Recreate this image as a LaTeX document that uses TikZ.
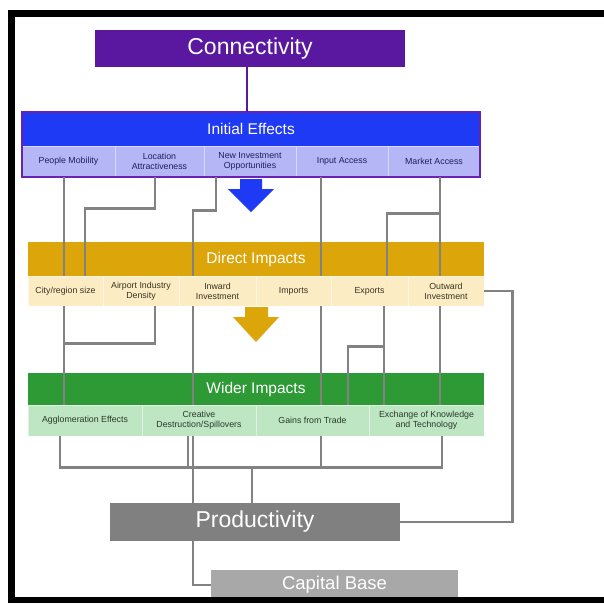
\documentclass[tikz,border=0pt]{standalone}
\usepackage{fontspec}
\setmainfont{Liberation Sans}
\usetikzlibrary{calc}
\definecolor{cpurple}{HTML}{5A17A0}
\definecolor{ieblue}{HTML}{1F3AF5}
\definecolor{ielav}{HTML}{B4B6F5}
\definecolor{ieborder}{HTML}{6A22B0}
\definecolor{ietext}{HTML}{1F1F5C}
\definecolor{digold}{HTML}{DCA50A}
\definecolor{dicream}{HTML}{FBECC4}
\definecolor{ditext}{HTML}{3A3320}
\definecolor{wigreen}{HTML}{2E9A36}
\definecolor{wilight}{HTML}{BEE6C3}
\definecolor{witext}{HTML}{2A3A2A}
\definecolor{conngray}{HTML}{828282}
\definecolor{prodgray}{HTML}{808080}
\definecolor{capgray}{HTML}{A8A8A8}
\tikzset{
  bigbox/.style={rectangle, inner sep=0pt, text=white, font=\fontsize{23}{26}\selectfont},
  hdr/.style={rectangle, inner sep=0pt, text=white, font=\fontsize{15.5}{18}\selectfont},
  cell/.style={rectangle, inner sep=0pt, align=center, font=\fontsize{8.8}{10}\selectfont, draw=white, draw opacity=0.5, line width=0.6pt},
  icell/.style={cell, fill=ielav, text=ietext, minimum height=31pt},
  dcell/.style={cell, fill=dicream, text=ditext, minimum height=30pt},
  wcell/.style={cell, fill=wilight, text=witext, minimum height=31pt},
  conn/.style={draw=conngray, line width=2.6pt},
}
\begin{document}
\begin{tikzpicture}[x=1pt,y=-1pt]
\useasboundingbox (0,0) rectangle (604,603);
\fill[white] (0,0) rectangle (604,603);

% Connectivity
\node[bigbox, fill=cpurple, minimum width=310pt, minimum height=37pt] (conn) at (250,48.5) {Connectivity};

% Initial effects
\node[hdr, fill=ieblue, minimum width=458pt, minimum height=34pt] (ie) at (251,129) {Initial Effects};
\node[icell, minimum width=93pt] (pm) at (68.5,161.5) {People Mobility};
\node[icell, minimum width=89pt] (la) at (159.5,161.5) {Location\\Attractiveness};
\node[icell, minimum width=92pt] (ni) at (250,161.5) {New Investment\\Opportunities};
\node[icell, minimum width=92pt] (ia) at (342,161.5) {Input Access};
\node[icell, minimum width=92pt] (ma) at (434,161.5) {Market Access};
\draw[ieborder, line width=1.6pt] (22,112) rectangle (480,177);

\draw[draw=cpurple, line width=2.2pt] ([xshift=-3pt]conn.south) -- ([xshift=-4pt]ie.north);

% arrows
\fill[ieblue] (240,179) -- (262,179) -- (262,189) -- (274,189) -- (251,212) -- (228,189) -- (240,189) -- cycle;
\fill[digold] (245,307) -- (268,307) -- (268,317) -- (279,317) -- (256,342) -- (233,317) -- (245,317) -- cycle;

% Direct impacts
\node[hdr, fill=digold, minimum width=456pt, minimum height=34pt] (di) at (256,259) {Direct Impacts};
\node[dcell, minimum width=75pt] (cr) at (65.5,291) {City/region size};
\node[dcell, minimum width=76pt] (ai) at (141,291) {Airport Industry\\Density};
\node[dcell, minimum width=77pt] (ii) at (217.5,291) {Inward\\Investment};
\node[dcell, minimum width=75pt] (im) at (293.5,291) {Imports};
\node[dcell, minimum width=77pt] (ex) at (369.5,291) {Exports};
\node[dcell, minimum width=76pt] (oi) at (446,291) {Outward\\Investment};

% Wider impacts
\node[hdr, fill=wigreen, minimum width=456pt, minimum height=32pt] (wi) at (256,389) {Wider Impacts};
\node[wcell, minimum width=114pt] (ag) at (85,420.5) {Agglomeration Effects};
\node[wcell, minimum width=114pt] (cd) at (199,420.5) {Creative\\Destruction/Spillovers};
\node[wcell, minimum width=113pt] (gt) at (312.5,420.5) {Gains from Trade};
\node[wcell, minimum width=115pt] (ek) at (426.5,420.5) {Exchange of Knowledge\\and Technology};

% Productivity and capital base
\node[bigbox, fill=prodgray, minimum width=290pt, minimum height=38pt] (prod) at (255,522) {Productivity};
\node[bigbox, fill=capgray, minimum width=247pt, minimum height=30pt, font=\fontsize{18.5}{21}\selectfont] (cap) at (334.5,585) {Capital Base};

% connectors Initial -> Direct (drawn over the headers)
\draw[conn] ([xshift=-4.5pt]pm.south) -- ([xshift=-1.5pt]cr.north);
\draw[conn] ([xshift=-4.5pt]la.south) -- ++(0,31) -| ([xshift=19.5pt]cr.north);
\draw[conn] ([xshift=-34pt]ni.south) -- ++(0,33) -| ([xshift=-24.5pt]ii.north);
\draw[conn] ([xshift=-21pt]ia.south) -- ([xshift=27.5pt]im.north);
\draw[conn] ([xshift=6pt]ma.south) -- ([xshift=-6pt]oi.north);
\draw[conn] ([xshift=6pt]ma.south) -- ++(0,36) -| ([xshift=17.5pt]ex.north);

% connectors Direct -> Wider
\draw[conn] ([xshift=-1.5pt]cr.south) -- ([xshift=-21pt]ag.north);
\draw[conn] ([xshift=14pt]ai.south) -- ++(0,37) -- ++(-91,0);
\draw[conn] ([xshift=-24.5pt]ii.south) -- ([xshift=-6pt]cd.north);
\draw[conn] ([xshift=27.5pt]im.south) -- ([xshift=8.5pt]gt.north);
\draw[conn] ([xshift=14.5pt]ex.south) -- ([xshift=-42.5pt]ek.north);
\draw[conn] ([xshift=14.5pt]ex.south) -- ++(0,40) -| ([xshift=35.5pt]gt.north);
\draw[conn] ([xshift=-6pt]oi.south) -- ([xshift=13.5pt]ek.north);

% connectors Wider -> Productivity
\draw[conn] ([xshift=-25pt]ag.south) -- ++(0,31) -| ([xshift=15.5pt]ek.south);
\draw[conn] ([xshift=-11pt]cd.south) -- ++(0,31);
\draw[conn] ([xshift=8.5pt]gt.south) -- ++(0,31);
\draw[conn] ([xshift=-3pt]prod.north) -- ++(0,-36);
\draw[conn] ([xshift=-6pt]cd.south) -- ([xshift=-62pt]prod.north);
\draw[conn] ([xshift=-62pt]prod.south) |- (cap.west);
\draw[conn] (oi.east) -- ++(28,0) |- (prod.east);

% frame
\fill[black] (8,10) rectangle (604,17);
\fill[black] (8,10) rectangle (15,603);
\fill[black] (8,597) rectangle (604,603);
\end{tikzpicture}
\end{document}
